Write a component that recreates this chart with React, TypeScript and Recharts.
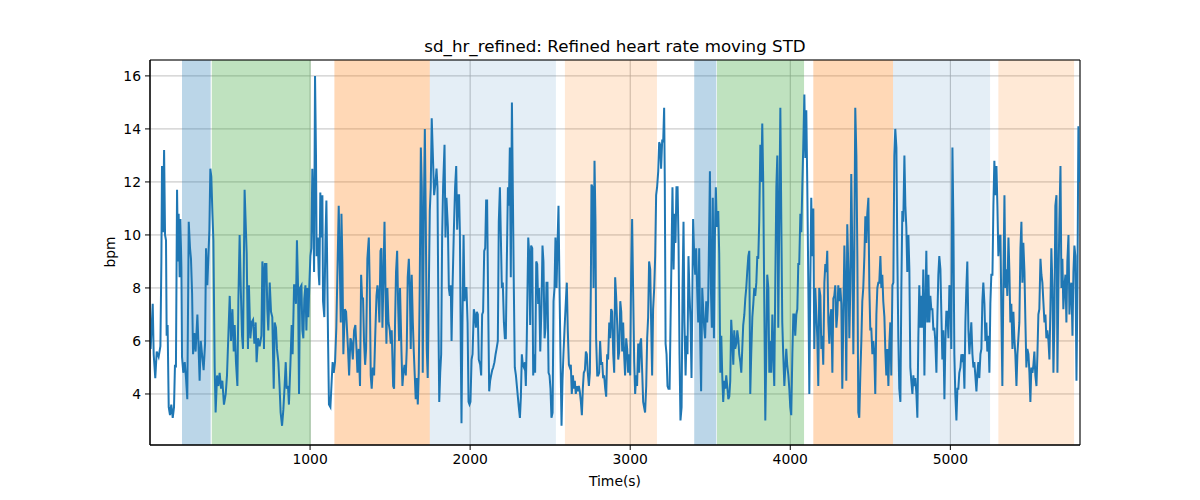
import { LineChart, Line, XAxis, YAxis, CartesianGrid, ReferenceArea } from 'recharts';

// [time (s), moving STD (bpm)], split by time window
const sd0000: [number, number][] = [
  [4, 5.7], [17, 7.4], [23, 5.5], [33, 4.6], [42, 5.6], [54, 5.4], [65, 5.8], [71, 9.0], [75, 12.6], [81, 10.1],
  [88, 13.2], [94, 10.0], [100, 9.8], [104, 6.2], [110, 6.6], [117, 3.5], [125, 3.2], [133, 3.6], [142, 3.1], [150, 3.5],
  [156, 5.1], [162, 5.0], [169, 11.7], [175, 9.0], [179, 10.8], [185, 8.4], [190, 10.6], [196, 8.8], [200, 5.4], [208, 4.8],
  [217, 5.2], [225, 4.6], [233, 3.8], [242, 10.5], [250, 9.5], [256, 9.1], [263, 7.8], [269, 5.5], [277, 6.3], [285, 5.6],
  [296, 7.0], [302, 6.0], [310, 4.5], [317, 6.0], [325, 5.5], [335, 4.9], [344, 5.9], [350, 9.5], [358, 8.1], [365, 9.2],
  [371, 10.2], [377, 12.5], [383, 12.2], [390, 10.8], [396, 9.8], [404, 5.0], [410, 3.3], [419, 4.7], [427, 4.3], [435, 4.8],
  [444, 4.2], [452, 4.5], [462, 3.6], [473, 4.0], [481, 4.7], [490, 6.3], [498, 7.7], [506, 6.0], [515, 7.2], [523, 5.6],
  [529, 6.6], [537, 5.2], [546, 4.3], [552, 7.5], [560, 10.0], [567, 8.0], [575, 6.2],
];

const sd0580: [number, number][] = [
  [581, 5.7], [591, 11.7], [604, 9.3], [612, 5.7], [618, 8.1], [627, 6.1], [635, 6.7], [644, 6.8], [652, 5.9], [660, 6.7],
  [666, 5.2], [675, 6.1], [685, 5.8], [696, 6.2], [702, 9.0], [706, 8.7], [712, 5.7], [718, 8.9], [727, 8.9], [733, 7.2],
  [739, 6.4], [748, 8.2], [756, 7.1], [764, 6.9], [773, 4.2], [779, 6.7], [787, 6.5], [793, 5.7], [802, 5.2], [810, 4.2],
  [816, 3.3], [825, 2.8], [833, 3.4], [841, 4.3], [848, 5.2], [854, 4.2], [862, 4.3], [868, 3.6], [877, 5.1], [885, 6.6],
  [891, 5.5], [900, 8.1], [906, 8.1], [912, 7.4], [918, 9.8], [925, 8.0], [931, 4.0], [937, 8.0], [946, 8.1], [952, 6.4],
  [958, 6.1], [964, 7.6], [971, 8.1], [977, 6.4], [983, 8.0], [989, 6.9], [996, 8.2], [1002, 9.2], [1008, 9.5], [1014, 12.5],
  [1021, 10.5], [1025, 8.6], [1031, 16.0], [1037, 13.0], [1041, 9.2], [1048, 9.9], [1054, 8.5], [1058, 8.1], [1064, 11.6], [1071, 9.9],
  [1077, 11.5], [1081, 7.5], [1089, 6.9], [1096, 9.8], [1102, 11.3], [1106, 9.3], [1112, 6.2], [1118, 3.6], [1127, 3.5], [1135, 4.5],
  [1141, 5.2], [1148, 4.8], [1156, 5.2], [1164, 6.5], [1173, 9.2],
];

const sd1175: [number, number][] = [
  [1179, 11.1], [1192, 6.7], [1196, 10.8], [1202, 9.0], [1208, 5.5], [1217, 7.2], [1225, 7.1], [1231, 6.4], [1237, 5.7], [1244, 4.7],
  [1252, 6.1], [1258, 6.0], [1267, 5.3], [1275, 6.4], [1283, 6.6], [1290, 5.7], [1296, 4.8], [1304, 5.7], [1312, 4.3], [1319, 8.5],
  [1325, 7.6], [1331, 7.6], [1337, 6.0], [1344, 5.1], [1350, 5.7], [1358, 9.1], [1367, 9.9], [1373, 8.0], [1379, 4.7], [1385, 4.2],
  [1392, 5.0], [1400, 4.7], [1408, 6.4], [1415, 7.7], [1421, 8.1], [1427, 7.7], [1433, 6.7], [1440, 9.4], [1446, 9.5], [1452, 6.5],
  [1458, 8.2], [1465, 10.5], [1471, 8.0], [1477, 5.9], [1483, 8.0], [1490, 6.7], [1498, 6.4], [1504, 5.9], [1510, 6.4], [1519, 4.3],
  [1525, 4.2], [1531, 6.7], [1537, 8.6], [1544, 9.4], [1550, 7.4], [1556, 6.0], [1562, 8.0], [1571, 5.6], [1577, 4.3], [1583, 4.8],
  [1590, 5.1], [1598, 4.7], [1604, 5.7], [1610, 8.4], [1617, 9.1], [1623, 8.0], [1629, 5.7], [1635, 8.5], [1642, 6.7], [1648, 5.6],
  [1654, 4.7], [1660, 3.8], [1667, 4.6], [1673, 3.6], [1679, 4.8], [1685, 8.0], [1692, 13.3], [1698, 11.8], [1704, 4.8], [1710, 10.5],
  [1717, 14.0], [1723, 10.5], [1729, 5.7], [1735, 4.6], [1742, 8.0], [1748, 10.9], [1754, 11.8], [1760, 14.4],
];

const sd1770: [number, number][] = [
  [1775, 11.5], [1784, 12.0], [1790, 12.5], [1796, 11.8], [1802, 6.7], [1807, 3.7], [1813, 4.8], [1819, 5.5], [1825, 9.9], [1831, 11.8],
  [1840, 13.4], [1846, 9.9], [1852, 11.4], [1861, 10.3], [1867, 8.0], [1873, 7.7], [1879, 8.1], [1884, 6.0], [1890, 8.0], [1898, 10.1],
  [1906, 11.8], [1913, 12.6], [1919, 10.2], [1925, 11.5], [1931, 11.5], [1936, 10.1], [1942, 5.5], [1946, 2.9], [1952, 6.7], [1959, 10.0],
  [1965, 7.5], [1971, 8.0], [1977, 8.0], [1984, 6.7], [1990, 3.7], [1996, 3.6], [2002, 3.7], [2009, 5.3], [2015, 5.5], [2023, 7.2],
  [2029, 7.0], [2036, 6.5], [2042, 7.1], [2048, 7.0], [2054, 5.3], [2063, 5.1], [2069, 4.7], [2075, 7.0], [2081, 7.1], [2088, 9.4],
  [2094, 9.5], [2100, 11.3], [2106, 11.3], [2113, 7.2], [2119, 4.1], [2125, 4.5], [2131, 4.7], [2138, 4.9], [2144, 5.0], [2152, 5.2],
  [2159, 5.5], [2165, 5.7], [2173, 6.0], [2179, 10.5], [2186, 11.8], [2192, 9.9], [2198, 8.0], [2204, 8.2], [2211, 6.7], [2217, 6.1],
  [2223, 6.1], [2229, 8.9], [2236, 11.8], [2242, 11.1], [2248, 13.3], [2254, 8.4], [2261, 15.0], [2267, 11.5], [2273, 8.0], [2279, 5.0],
  [2286, 4.7], [2292, 4.3], [2298, 3.9], [2304, 3.5], [2311, 3.1], [2317, 3.9], [2323, 5.5], [2329, 5.1], [2336, 5.0], [2342, 5.2],
  [2348, 4.3], [2354, 6.1],
];

const sd2360: [number, number][] = [
  [2363, 9.9], [2369, 9.3], [2375, 6.6], [2381, 9.6], [2388, 9.5], [2394, 4.7], [2400, 5.5], [2406, 4.8], [2413, 9.0], [2419, 8.9],
  [2425, 7.4], [2431, 8.0], [2438, 5.6], [2446, 7.4], [2452, 9.6], [2458, 9.0], [2465, 6.1], [2471, 6.5], [2477, 8.2], [2483, 8.2],
  [2490, 4.8], [2496, 4.7], [2502, 4.2], [2508, 3.1], [2515, 3.3], [2521, 7.5], [2527, 8.0], [2533, 9.9], [2540, 8.0], [2546, 9.7],
  [2552, 11.1], [2558, 8.2], [2565, 5.2], [2571, 2.8], [2577, 4.5], [2583, 5.5], [2590, 6.5], [2598, 7.5], [2604, 8.2], [2610, 6.4],
  [2617, 5.1], [2623, 5.0], [2629, 5.1], [2635, 4.0], [2642, 4.7], [2648, 4.2], [2654, 4.5], [2660, 4.0], [2667, 4.3], [2673, 4.1],
  [2679, 4.3], [2685, 4.1], [2692, 3.7], [2698, 3.2], [2704, 4.2], [2710, 4.8], [2717, 4.9], [2723, 5.6], [2729, 5.5], [2735, 4.8],
  [2742, 4.3], [2748, 4.8], [2754, 8.0], [2758, 11.9], [2765, 11.8], [2771, 8.0], [2777, 12.8], [2783, 10.5], [2787, 6.1], [2794, 4.7],
  [2800, 4.7], [2806, 4.8], [2812, 6.0], [2819, 5.1], [2825, 5.2], [2831, 4.6], [2837, 4.7], [2844, 4.2], [2850, 3.9], [2856, 5.5],
  [2862, 5.3], [2869, 6.7], [2875, 6.1], [2881, 7.2], [2887, 7.1], [2894, 5.5], [2900, 4.8], [2906, 8.4], [2912, 7.7], [2919, 6.6],
  [2925, 5.3], [2931, 5.6], [2938, 7.5], [2944, 7.1], [2950, 5.6],
];

const sd2955: [number, number][] = [
  [2956, 6.7], [2962, 5.5], [2968, 4.7], [2975, 6.1], [2981, 5.7], [2987, 4.8], [2993, 5.5], [3000, 4.7], [3006, 8.6], [3012, 10.6],
  [3018, 8.0], [3025, 5.2], [3031, 4.0], [3037, 4.7], [3043, 4.3], [3050, 5.9], [3056, 4.8], [3062, 5.9], [3068, 6.1], [3075, 4.8],
  [3081, 3.7], [3087, 3.5], [3093, 3.3], [3100, 4.3], [3106, 6.1], [3112, 6.9], [3118, 9.0], [3125, 8.7], [3131, 6.6], [3137, 4.7],
  [3143, 7.2], [3150, 8.0], [3156, 9.2], [3162, 11.5], [3168, 11.8], [3175, 12.4], [3181, 13.5], [3187, 13.4], [3193, 12.5], [3200, 13.6],
  [3206, 13.5], [3212, 14.8], [3216, 12.1], [3221, 5.9], [3227, 5.5], [3233, 4.3], [3239, 4.2], [3246, 4.2], [3252, 6.7], [3258, 9.2],
  [3264, 11.8], [3271, 8.7], [3277, 10.8], [3283, 9.7], [3289, 11.8], [3296, 11.8], [3302, 9.7], [3308, 5.5], [3314, 3.0], [3321, 3.5],
  [3327, 8.0], [3333, 10.5], [3339, 6.7], [3346, 4.7], [3352, 6.2], [3358, 5.5], [3364, 9.2], [3371, 7.7], [3377, 6.7], [3383, 4.6],
  [3389, 8.2], [3393, 10.6], [3400, 9.2], [3406, 8.5], [3412, 9.5], [3418, 8.0], [3425, 6.7], [3431, 9.5], [3437, 6.2], [3443, 4.1],
  [3450, 8.0], [3456, 7.2], [3462, 6.5], [3468, 6.1], [3475, 7.5], [3481, 6.7], [3487, 7.5], [3493, 10.0], [3498, 12.4], [3504, 8.0],
  [3510, 6.5], [3516, 11.4], [3523, 6.1], [3529, 9.9], [3535, 11.8], [3541, 10.3],
];

const sd3550: [number, number][] = [
  [3550, 10.9], [3556, 9.3], [3563, 4.8], [3569, 6.2], [3575, 4.7], [3581, 3.7], [3588, 4.5], [3594, 4.2], [3600, 4.7], [3606, 4.3],
  [3613, 3.8], [3619, 3.9], [3625, 4.5], [3631, 6.8], [3638, 6.0], [3644, 5.1], [3650, 6.4], [3656, 5.7], [3663, 5.9], [3669, 6.4],
  [3675, 6.1], [3681, 5.5], [3688, 5.2], [3694, 4.8], [3700, 5.7], [3706, 6.6], [3713, 7.0], [3719, 7.6], [3725, 8.0], [3731, 8.6],
  [3738, 9.2], [3744, 9.4], [3750, 4.0], [3756, 5.5], [3763, 6.9], [3769, 7.4], [3775, 8.0], [3781, 7.7], [3788, 8.2], [3794, 9.2],
  [3800, 9.1], [3806, 10.5], [3813, 13.4], [3819, 12.0], [3825, 14.2], [3831, 12.0], [3838, 7.2], [3844, 3.0], [3850, 5.5], [3856, 8.5],
  [3863, 8.0], [3869, 4.8], [3875, 6.0], [3881, 4.8], [3888, 7.0], [3894, 5.5], [3900, 4.3], [3906, 8.0], [3913, 11.8], [3919, 13.0],
  [3925, 6.5], [3931, 10.5], [3938, 14.8], [3944, 10.5], [3950, 6.7], [3956, 5.5], [3963, 4.3], [3969, 5.0], [3975, 5.7], [3981, 5.1],
  [3988, 4.7], [3994, 4.2], [4000, 3.5], [4006, 3.2], [4013, 5.5], [4019, 7.0], [4025, 7.0], [4031, 6.2], [4038, 7.0], [4044, 7.2],
  [4050, 8.9], [4056, 8.9], [4063, 10.8], [4069, 10.1], [4075, 11.8], [4081, 13.3], [4088, 15.3], [4094, 12.9], [4100, 14.7], [4106, 12.0],
  [4113, 8.0], [4119, 4.0], [4125, 8.0], [4131, 11.4], [4138, 9.2],
];

const sd4140: [number, number][] = [
  [4144, 11.0], [4150, 5.7], [4156, 8.0], [4163, 7.0], [4169, 6.1], [4175, 4.3], [4181, 8.0], [4188, 7.7], [4194, 5.7], [4200, 6.2],
  [4206, 5.1], [4213, 8.2], [4219, 8.9], [4225, 8.6], [4231, 9.4], [4238, 6.7], [4244, 5.9], [4250, 6.9], [4256, 7.2], [4263, 4.8],
  [4269, 7.6], [4275, 7.7], [4281, 8.1], [4288, 6.5], [4294, 7.0], [4300, 8.1], [4306, 7.5], [4313, 8.0], [4319, 7.4], [4325, 4.2],
  [4331, 6.7], [4338, 9.6], [4344, 8.0], [4350, 4.5], [4356, 10.4], [4363, 8.7], [4369, 6.1], [4375, 8.0], [4381, 12.3], [4388, 9.2],
  [4394, 5.5], [4400, 9.2], [4406, 14.8], [4413, 13.0], [4419, 9.2], [4425, 3.3], [4431, 3.1], [4438, 4.8], [4444, 6.0], [4450, 7.5],
  [4456, 8.0], [4463, 9.2], [4469, 10.7], [4475, 9.7], [4481, 10.8], [4488, 11.4], [4494, 8.0], [4500, 6.4], [4506, 6.5], [4513, 5.5],
  [4519, 6.0], [4525, 5.5], [4531, 4.0], [4538, 7.0], [4544, 8.0], [4550, 8.2], [4556, 8.2], [4563, 9.2], [4569, 8.0], [4575, 8.5],
  [4581, 7.5], [4588, 6.9], [4594, 5.6], [4600, 4.7], [4606, 5.7], [4613, 4.3], [4619, 5.9], [4625, 6.7], [4631, 4.7], [4638, 8.1],
  [4644, 8.2], [4650, 13.0], [4656, 14.0], [4663, 13.3], [4669, 9.2], [4675, 6.1], [4681, 4.2], [4688, 3.7], [4694, 8.0], [4700, 10.9],
  [4706, 10.5], [4713, 13.0], [4719, 11.1], [4725, 10.3], [4731, 8.6],
];

const sd4735: [number, number][] = [
  [4738, 10.0], [4744, 8.7], [4750, 5.0], [4756, 4.5], [4763, 4.0], [4769, 4.7], [4775, 4.3], [4781, 4.6], [4788, 4.0], [4794, 3.1],
  [4800, 6.1], [4806, 8.1], [4813, 6.5], [4819, 7.7], [4825, 6.5], [4831, 8.7], [4838, 4.7], [4844, 7.4], [4850, 9.4], [4856, 6.7],
  [4863, 8.5], [4869, 6.7], [4875, 7.7], [4881, 7.2], [4888, 7.2], [4894, 6.4], [4900, 6.5], [4906, 6.0], [4913, 4.8], [4919, 6.9],
  [4925, 8.5], [4931, 9.2], [4938, 8.7], [4944, 7.0], [4950, 5.3], [4956, 6.4], [4963, 3.8], [4969, 6.0], [4975, 7.1], [4981, 7.1],
  [4988, 6.1], [4994, 8.1], [5000, 8.0], [5006, 5.7], [5013, 13.3], [5019, 10.5], [5025, 5.5], [5031, 4.0], [5038, 3.0], [5044, 4.2],
  [5050, 4.2], [5056, 4.8], [5063, 5.0], [5069, 5.5], [5075, 5.2], [5081, 5.5], [5088, 4.2], [5094, 6.7], [5100, 8.0], [5106, 9.0],
  [5113, 6.4], [5119, 5.5], [5125, 6.1], [5131, 6.7], [5138, 5.5], [5144, 5.0], [5150, 5.2], [5156, 4.7], [5163, 4.1], [5169, 4.8],
  [5175, 5.2], [5181, 4.6], [5188, 5.5], [5194, 5.7], [5200, 7.5], [5206, 8.2], [5213, 7.4], [5219, 6.0], [5225, 6.7], [5231, 5.6],
  [5238, 6.2], [5244, 4.8], [5250, 7.4], [5256, 8.5], [5263, 8.5], [5269, 11.1], [5275, 12.8], [5281, 11.5], [5288, 12.6], [5294, 11.1],
  [5300, 9.2], [5306, 9.9],
];

const sd5310: [number, number][] = [
  [5313, 10.0], [5319, 7.0], [5325, 4.3], [5331, 8.0], [5338, 11.5], [5344, 8.0], [5350, 8.7], [5356, 7.7], [5363, 9.9], [5369, 8.6],
  [5375, 6.7], [5381, 7.4], [5388, 5.7], [5394, 7.1], [5400, 6.1], [5406, 5.5], [5413, 4.3], [5419, 5.5], [5425, 6.1], [5431, 6.7],
  [5438, 9.5], [5444, 10.5], [5450, 8.2], [5456, 9.7], [5463, 8.6], [5469, 6.7], [5475, 5.0], [5481, 5.7], [5488, 5.5], [5494, 4.8],
  [5500, 3.7], [5506, 5.0], [5513, 4.8], [5519, 5.1], [5525, 5.6], [5531, 4.7], [5538, 4.3], [5544, 5.5], [5550, 7.0], [5556, 7.2],
  [5563, 9.1], [5569, 8.5], [5575, 8.2], [5581, 7.5], [5588, 6.7], [5594, 7.0], [5600, 6.1], [5606, 6.4], [5613, 6.0], [5619, 5.3],
  [5625, 7.2], [5631, 9.5], [5638, 8.0], [5644, 4.8], [5650, 6.7], [5656, 11.1], [5663, 11.5], [5669, 4.8], [5675, 8.0], [5681, 10.5],
  [5688, 12.6], [5694, 8.0], [5700, 9.1], [5706, 7.2], [5713, 8.1], [5719, 8.5], [5725, 6.7], [5731, 9.0], [5738, 10.0], [5744, 7.0],
  [5750, 8.0], [5756, 8.2], [5763, 6.2], [5769, 8.6], [5775, 9.6], [5781, 9.2], [5788, 4.5], [5794, 8.0], [5800, 14.1], [5806, 12.0],
];

// shaded phases (seconds)
const spanStart = [200, 386, 1152, 1748, 2592, 3400, 3542, 4144, 4642, 5300];
const spanEnd = [379, 1004, 1748, 2536, 3167, 3538, 4086, 4642, 5248, 5773];
const spanPhase = ['a', 'b', 'c', 'd', 'e', 'a', 'b', 'c', 'd', 'e'];

const xTicks = [1000, 2000, 3000, 4000, 5000];
const yTicks = [4, 6, 8, 10, 12, 14, 16];

const X_MAX = 5810;
const Y_MIN = 2.075;
const Y_MAX = 16.6;

const phaseFill: Record<string, { fill: string; opacity: number }> = {
  a: { fill: '#1f77b4', opacity: 0.3 },
  b: { fill: '#2ca02c', opacity: 0.3 },
  c: { fill: '#ff7f0e', opacity: 0.3 },
  d: { fill: '#1f77b4', opacity: 0.12 },
  e: { fill: '#ff7f0e', opacity: 0.17 },
};

const font = 'DejaVu Sans, sans-serif';

export default function App() {
  const rows = [sd0000, sd0580, sd1175, sd1770, sd2360, sd2955, sd3550, sd4140, sd4735, sd5310]
    .flat()
    .map(([t, v]) => ({ t, v }));

  return (
    <div style={{ position: 'absolute', left: 0, top: 0, width: 1200, height: 500, background: '#fff', fontFamily: font }}>
      <LineChart width={1200} height={500} data={rows} margin={{ top: 60, right: 120, bottom: 25, left: 90 }}>
        <CartesianGrid stroke="#b0b0b0" strokeWidth={0.8} />
        {spanStart.map((s, i) => (
          <ReferenceArea
            key={i}
            x1={s}
            x2={spanEnd[i]}
            y1={Y_MIN}
            y2={Y_MAX}
            fill={phaseFill[spanPhase[i]].fill}
            fillOpacity={phaseFill[spanPhase[i]].opacity}
            stroke="none"
          />
        ))}
        <XAxis
          type="number"
          dataKey="t"
          domain={[0, X_MAX]}
          ticks={xTicks}
          allowDataOverflow
          height={30}
          tickSize={5}
          tickMargin={4}
          stroke="#000"
          tick={{ fill: '#000', fontSize: 13.9, fontFamily: font }}
        />
        <YAxis
          type="number"
          domain={[Y_MIN, Y_MAX]}
          ticks={yTicks}
          allowDataOverflow
          width={60}
          tickSize={5}
          tickMargin={4}
          stroke="#000"
          tick={{ fill: '#000', fontSize: 13.9, fontFamily: font }}
        />
        <Line type="linear" dataKey="v" stroke="#1f77b4" strokeWidth={2} dot={false} isAnimationActive={false} />
        <ReferenceArea x1={0} x2={X_MAX} y1={Y_MIN} y2={Y_MAX} fill="none" stroke="#000" strokeWidth={1} />
      </LineChart>
      <div style={{ position: 'absolute', left: 150, width: 930, top: 36, textAlign: 'center', fontSize: 16.7, lineHeight: '20px' }}>
        sd_hr_refined: Refined heart rate moving STD
      </div>
      <div style={{ position: 'absolute', left: 150, width: 930, top: 472, textAlign: 'center', fontSize: 13.9, lineHeight: '18px' }}>
        Time(s)
      </div>
      <div
        style={{
          position: 'absolute',
          left: 110,
          top: 252,
          fontSize: 13.9,
          lineHeight: '18px',
          transform: 'translate(-50%, -50%) rotate(-90deg)',
          whiteSpace: 'nowrap',
        }}
      >
        bpm
      </div>
    </div>
  );
}
